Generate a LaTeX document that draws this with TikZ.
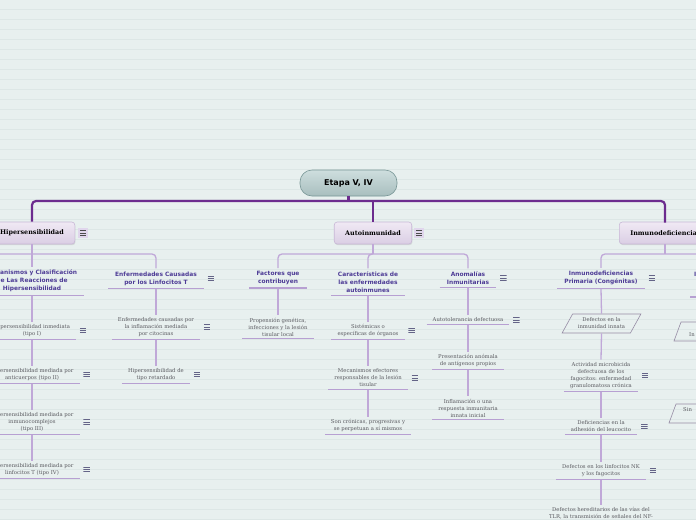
\documentclass[tikz,border=0pt]{standalone}
\usepackage{fontspec}
\usetikzlibrary{shapes.geometric,shadows}
\newfontfamily\djsans{DejaVu Sans}
\newfontfamily\djserif{DejaVu Serif}
\definecolor{bgc}{RGB}{232,240,239}
\definecolor{gridc}{RGB}{221,231,230}
\definecolor{mainc}{RGB}{108,44,142}
\definecolor{connc}{RGB}{192,168,216}
\definecolor{ulc}{RGB}{183,160,210}
\definecolor{subc}{RGB}{78,60,150}
\definecolor{leafc}{RGB}{90,90,96}
\definecolor{iconc}{RGB}{100,100,135}
\definecolor{roott}{RGB}{206,222,222}
\definecolor{rootb}{RGB}{168,190,190}
\definecolor{rootd}{RGB}{120,150,150}
\definecolor{lonet}{RGB}{240,233,244}
\definecolor{loneb}{RGB}{218,206,228}
\definecolor{loned}{RGB}{200,184,214}
\definecolor{iconbg}{RGB}{224,214,236}
\definecolor{parac}{RGB}{150,140,165}
\begin{document}
\begin{tikzpicture}[x=1pt,y=-1pt,
  rootbox/.style={draw=rootd, line width=0.6pt, rounded corners=12pt, top color=roott, bottom color=rootb,
    minimum width=97pt, minimum height=26pt, font=\djsans\bfseries\fontsize{8}{9}\selectfont, text=black},
  lone/.style={draw=loned, line width=0.6pt, rounded corners=3pt, top color=lonet, bottom color=loneb,
    minimum height=22pt, inner xsep=11pt, font=\djserif\bfseries\fontsize{6.4}{8}\selectfont, text=black,
    drop shadow={opacity=0.2, shadow xshift=0.6pt, shadow yshift=-1.2pt}},
  sub/.style={align=center, inner xsep=7pt, inner ysep=3pt, font=\djsans\bfseries\fontsize{5.9}{8}\selectfont, text=subc},
  leaf/.style={align=center, inner xsep=6pt, inner ysep=2.5pt, font=\djserif\fontsize{5.3}{7}\selectfont, text=leafc},
  para/.style={leaf, draw=parac, line width=0.6pt, trapezium, trapezium left angle=62, trapezium right angle=118,
    minimum height=19pt, trapezium stretches=true, minimum width=79pt, inner xsep=0pt},
  micon/.style={minimum width=6.5pt, minimum height=6pt, inner sep=0pt,
    path picture={
      \foreach \s in {0.8,3,5.2}
        \draw[iconc, line width=0.75pt] ([yshift=-\s pt]path picture bounding box.north west) -- ([yshift=-\s pt]path picture bounding box.north east);
    }},
  bigicon/.style={minimum size=10pt, inner sep=0pt, fill=iconbg,
    path picture={
      \foreach \s in {2.8,5,7.2}
        \draw[black!70, line width=0.8pt] ([xshift=2pt,yshift=-\s pt]path picture bounding box.north west) -- ([xshift=-2pt,yshift=-\s pt]path picture bounding box.north east);
    }},
  mainline/.style={draw=mainc, line width=2.2pt, rounded corners=4pt},
  conn/.style={draw=connc, line width=1.3pt, rounded corners=4pt},
  uline/.style={draw=ulc, line width=1.1pt}
]
\useasboundingbox (0,0) rectangle (696,520);
\fill[bgc] (0,0) rectangle (696,520);
\foreach \i in {1,...,52} \draw[gridc, line width=0.7pt] (0,{\i*10-0.7}) -- (696,{\i*10-0.7});

% root and level 1
\node[rootbox] (root) at (348.5,183) {Etapa V, IV};
\node[lone] (hyp) at (32,233) {Hipersensibilidad};
\node[lone] (auto) at (373,233) {Autoinmunidad};
\node[lone, anchor=west] (inm) at (619,233) {Inmunodeficiencias\hspace{30pt}};
\node[bigicon] (hyp-m) at ([xshift=8pt]hyp.east) {};
\node[bigicon] (auto-m) at ([xshift=7pt]auto.east) {};

\coordinate (bus) at (348.5,201);
\draw[mainline] (root.south) -- (bus);
\draw[mainline] (hyp.north) |- (bus) -| (665,222.5);
\draw[mainline] (auto.north) -- (auto.north |- bus);

% Hipersensibilidad branch
\node[sub] (mec) at (32,281) {Mecanismos y Clasificación\\de Las Reacciones de\\Hipersensibilidad};
\node[sub] (enf) at (156,278.5) {Enfermedades Causadas\\por los Linfocitos T};
\node[leaf] (h1) at (32,330.5) {Hipersensibilidad inmediata\\(tipo I)};
\node[leaf] (h2) at (32,374.5) {Hipersensibilidad mediada por\\anticuerpos (tipo II)};
\node[leaf] (h3) at (32,422) {Hipersensibilidad mediada por\\inmunocomplejos\\(tipo III)};
\node[leaf] (h4) at (32,469.5) {Hipersensibilidad mediada por\\linfocitos T (tipo IV)};
\node[leaf] (e1) at (156,327) {Enfermedades causadas por\\la inflamación mediada\\por citocinas};
\node[leaf] (e2) at (156,374.5) {Hipersensibilidad de\\tipo retardado};

\coordinate (hb) at (32,254);
\coordinate (hl) at (-6,254);
\draw[conn] (hyp.south) -- (mec.north);
\draw[conn] (hl) -- (hb) -| (enf.north);
\draw[conn] (mec.south) -- (h1.north);
\draw[conn] (h1.south) -- (h2.north);
\draw[conn] (h2.south) -- (h3.north);
\draw[conn] (h3.south) -- (h4.north);
\draw[conn] (enf.south) -- (e1.north);
\draw[conn] (e1.south) -- (e2.north);

% Autoinmunidad branch
\node[sub] (fac) at (278,278) {Factores que\\contribuyen};
\node[sub] (car) at (368,282) {Características de\\las enfermedades\\autoinmunes};
\node[sub] (ano) at (468,278) {Anomalías\\Inmunitarias};
\node[leaf] (f1) at (278,327) {Propensión genética,\\infecciones y la lesión\\tisular local};
\node[leaf] (c1) at (368,330.5) {Sistémicas o\\específicas de órganos};
\node[leaf] (c2) at (368,378) {Mecanismos efectores\\responsables de la lesión\\tisular};
\node[leaf] (c3) at (368,425.5) {Son crónicas, progresivas y\\se perpetuan a sí mismos};
\node[leaf] (a1) at (468,320) {Autotolerancia defectuosa};
\node[leaf] (a2) at (468,360.5) {Presentación anómala\\de antígenos propios};
\node[leaf] (a3) at (468,408) {Inflamación o una\\respuesta inmunitaria\\innata inicial};

\coordinate (ab) at (373,254);
\draw[conn] (auto.south) -- (ab);
\draw[conn] (fac.north) |- (ab) -| (ano.north);
\draw[conn] (car.north) |- (ab);
\draw[conn] (fac.south) -- (f1.north);
\draw[conn] (car.south) -- (c1.north);
\draw[conn] (c1.south) -- (c2.north);
\draw[conn] (c2.south) -- (c3.north);
\draw[conn] (ano.south) -- (a1.north);
\draw[conn] (a1.south) -- (a2.north);
\draw[conn] (a2.south) -- (a3.north);

% Inmunodeficiencias branch
\node[sub] (pri) at (601,278) {Inmunodeficiencias\\Primaria (Congénitas)};
\node[para] (p1) at (601.5,323.5) {Defectos en la\\inmunidad innata};
\node[leaf] (p2) at (601,375.5) {Actividad microbicida\\defectuosa de los\\fagocitos: enfermedad\\granulomatosa crónica};
\node[leaf] (p3) at (601,426.5) {Deficiencias en la\\adhesión del leucocito};
\node[leaf] (p4) at (601,470.5) {Defectos en los linfocitos NK\\y los fagocitos};
\node[leaf, anchor=north] (p5) at (601,505) {Defectos hereditarios de las vías del\\TLR, la transmisión de señales del NF-};

\coordinate (ib) at (665,254);
\coordinate (ir) at (702,254);
\draw[conn] (inm.south -| ib) -- (ib);
\draw[conn] (pri.north) |- (ib) -- (ir);
\draw[conn] (pri.south) -- (p1.north);
\draw[conn] (p1.south) -- (p2.north);
\draw[conn] (p2.south) -- (p3.north);
\draw[conn] (p3.south) -- (p4.north);
\draw[conn] (p4.south) -- (p5.north);

% partial elements at the right edge
\node[sub, anchor=west, inner sep=0pt] (sec) at (694,274) {I};
\coordinate (secu) at (690,297);
\coordinate (secr) at (700,297);
\draw[uline] (secu) -- (secr);
\draw[parac, line width=0.6pt] (700,322) -- (681,322) -- (674,341) -- (700,341);
\node[leaf, anchor=west, inner sep=0pt] (s1) at (689,335) {In};
\draw[parac, line width=0.6pt] (700,404) -- (676,404) -- (669,423) -- (700,423);
\node[leaf, anchor=west, inner sep=0pt] (s2) at (683,410) {Sin};

% underlines
\foreach \n in {mec,enf,h1,h2,h3,h4,e1,e2,fac,car,ano,f1,c1,c2,c3,a1,a2,a3,pri,p2,p3,p4}
  \draw[uline] (\n.south west) -- (\n.south east);

% menu icons
\foreach \n in {enf,h1,h2,h3,h4,e1,e2,c1,c2,ano,a1,pri,p2,p3,p4}
  \node[micon] (\n-m) at ([xshift=7pt]\n.east) {};
\end{tikzpicture}
\end{document}
